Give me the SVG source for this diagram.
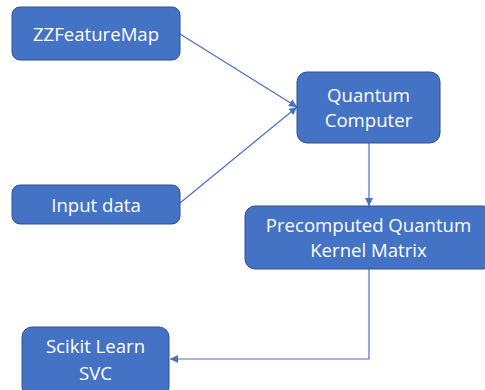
<svg xmlns="http://www.w3.org/2000/svg" width="485" height="390" viewBox="0 0 485 390">
<style>
.box{fill:#4472C4;stroke:#2F528F;stroke-width:1}
.lbl{font-family:"Open Sans","Liberation Sans",sans-serif;font-size:18.6px;fill:#FFFFFF;text-anchor:middle}
.edge{fill:none;stroke:#4472C4;stroke-width:1.2}
</style>
<defs>
<marker id="arr" viewBox="0 0 10 10" refX="10" refY="5" markerWidth="8" markerHeight="8" markerUnits="userSpaceOnUse" orient="auto">
<path d="M0,0 L10,5 L0,10 Z" fill="#4472C4"/>
</marker>
</defs>
<rect width="485" height="390" fill="#FFFFFF"/>
<g id="connectors">
<path class="edge" d="M180,34 L297,107" marker-end="url(#arr)"/>
<path class="edge" d="M180,203 L297,107" marker-end="url(#arr)"/>
<path class="edge" d="M369,143 L369,206" marker-end="url(#arr)"/>
<path class="edge" d="M369,269 L369,359 L170,359" marker-end="url(#arr)"/>
</g>
<g id="zzfeaturemap">
<rect class="box" x="12" y="7" width="168" height="53" rx="8"/>
<text class="lbl" x="96" y="41">ZZFeatureMap</text>
</g>
<g id="inputdata">
<rect class="box" x="12" y="185" width="168" height="39" rx="8"/>
<text class="lbl" x="96" y="212">Input data</text>
</g>
<g id="quantumcomputer">
<rect class="box" x="297" y="72" width="143" height="71" rx="10"/>
<text class="lbl" x="368.5" y="102">Quantum</text>
<text class="lbl" x="368.5" y="127">Computer</text>
</g>
<g id="kernelmatrix">
<rect class="box" x="245" y="206" width="248" height="63" rx="10"/>
<text class="lbl" x="368.5" y="232">Precomputed Quantum</text>
<text class="lbl" x="368.5" y="257">Kernel Matrix</text>
</g>
<g id="svc">
<rect class="box" x="22" y="327" width="147" height="70" rx="10"/>
<text class="lbl" x="95.5" y="353">Scikit Learn</text>
<text class="lbl" x="95.5" y="380">SVC</text>
</g>
</svg>
